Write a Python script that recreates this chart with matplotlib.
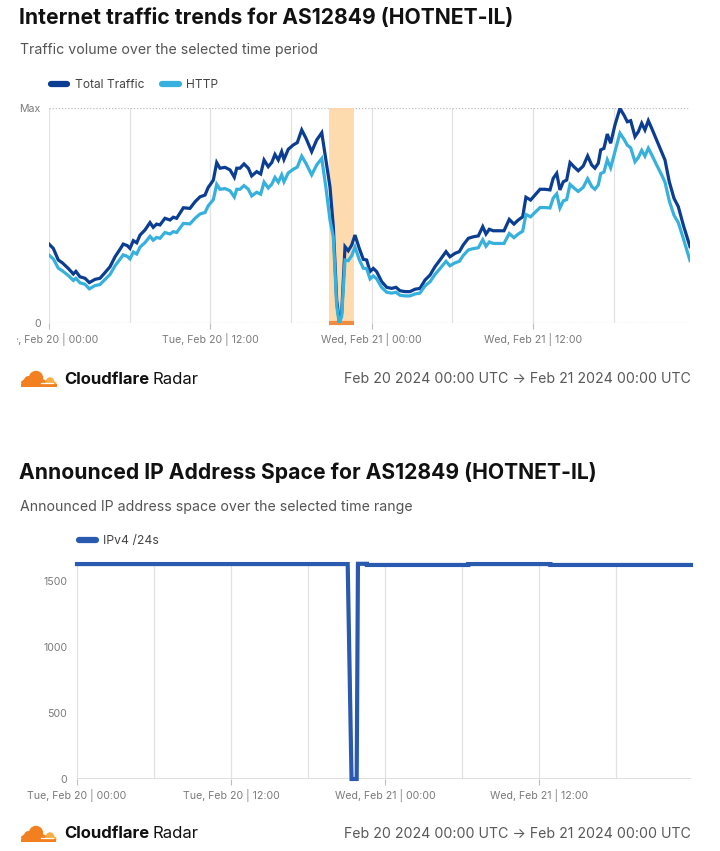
import matplotlib
matplotlib.use('Agg')
import matplotlib.pyplot as plt
from matplotlib.lines import Line2D
from matplotlib.patches import Circle, Ellipse, Rectangle
from matplotlib.transforms import Bbox, TransformedBbox
import numpy as np

# ---------------- data ----------------
# Hours since Tue Feb 20 00:00 UTC, traffic as % of Max
traffic_hours = [0.0, 0.32, 0.69, 0.99, 1.43, 1.81, 2.0, 2.3, 2.68, 3.0, 3.42, 3.79, 4.16, 4.54,
                 4.91, 5.28, 5.52, 5.82, 6.02, 6.27, 6.52, 6.77, 7.14, 7.51, 7.75, 8.0, 8.25, 8.62,
                 9.0, 9.24, 9.49, 9.99, 10.48, 10.86, 11.23, 11.6, 11.84, 11.97, 12.22, 12.47, 12.71,
                 13.09, 13.46, 13.78, 13.96, 14.2, 14.5, 14.82, 15.07, 15.44, 15.74, 15.99, 16.3,
                 16.56, 16.8, 17.05, 17.3, 17.47, 17.79, 18.16, 18.46, 18.79, 19.11, 19.53, 19.9,
                 20.28, 20.59, 20.89, 21.14, 21.39, 21.58, 21.76, 22.01, 22.25, 22.51, 22.75, 23.07,
                 23.37, 23.62, 23.87, 24.11, 24.36, 24.74, 25.11, 25.48, 25.8, 26.1, 26.47, 26.84,
                 27.21, 27.58, 27.96, 28.33, 28.7, 29.07, 29.52, 29.81, 30.19, 30.51, 30.8, 31.18,
                 31.55, 31.92, 32.25, 32.49, 32.74, 33.03, 33.53, 33.83, 34.22, 34.57, 34.89, 35.22,
                 35.46, 35.81, 36.13, 36.51, 36.88, 37.25, 37.49, 37.75, 37.99, 38.24, 38.49, 38.74,
                 39.03, 39.35, 39.72, 40.05, 40.35, 40.59, 40.84, 41.02, 41.26, 41.51, 41.76, 42.08,
                 42.45, 42.75, 43.0, 43.25, 43.57, 43.82, 44.07, 44.31, 44.56, 44.81, 45.18, 45.55,
                 45.8, 46.12, 46.47, 46.79, 47.16, 47.66]
total_traffic = [36.7, 34.7, 29.3, 28.0, 25.4, 22.8, 24.0, 21.5, 20.8, 18.8, 20.3, 20.8, 23.4, 26.2,
                 30.8, 34.3, 36.7, 36.0, 34.7, 38.3, 37.3, 40.9, 43.3, 46.7, 44.5, 46.0, 45.6, 48.7,
                 47.9, 49.2, 48.7, 53.6, 53.3, 56.4, 58.7, 59.5, 63.1, 64.2, 66.5, 74.6, 72.0,
                 72.4, 71.2, 67.8, 72.0, 72.0, 74.0, 72.0, 68.4, 70.4, 69.3, 75.8, 72.7,
                 74.6, 78.4, 75.8, 79.7, 76.1, 80.8, 82.8, 83.9, 89.8, 85.9, 79.7, 85.1,
                 88.5, 75.8, 63.4, 44.8, 10.7, 0.6, 4.5, 35.5, 33.6, 36.3, 40.9, 34.7,
                 29.6, 29.3, 23.9, 25.4, 23.9, 19.2, 16.6, 16.1, 16.6, 15.0, 14.6, 14.6,
                 15.7, 16.1, 20.0, 22.3, 26.2, 29.3, 33.2, 30.8, 32.4, 33.2, 36.3, 39.4,
                 40.1, 40.5, 44.8, 41.4, 43.6, 42.9, 42.9, 42.9, 48.2, 46.0, 47.9, 49.4,
                 58.5, 57.2, 59.5, 62.2, 62.2, 61.9, 67.3, 69.6, 61.9, 65.7, 66.5, 74.6,
                 72.7, 70.8, 73.0, 77.7, 73.5, 72.0, 74.3, 80.5, 81.2, 87.9, 83.6, 92.1,
                 99.8, 96.7, 93.6, 94.1, 86.7, 89.0, 92.9, 89.8, 94.1, 90.6, 85.1, 79.7,
                 75.8, 65.7, 58.0, 54.1, 45.6, 35.5]
http_traffic = [31.6, 29.8, 25.5, 24.3, 22.1, 19.8, 20.8, 18.7, 18.0, 15.9, 17.4, 17.9, 20.2, 22.6,
                26.6, 29.7, 31.7, 31.0, 29.8, 33.0, 32.1, 35.3, 37.4, 40.3, 38.5, 39.8, 39.4, 42.1,
                41.4, 42.5, 42.1, 46.3, 46.1, 48.7, 50.7, 51.4, 54.5, 55.5, 57.4, 64.5, 62.2,
                62.5, 61.5, 58.6, 62.2, 62.2, 63.9, 62.2, 59.1, 60.8, 59.9, 65.5, 62.8,
                64.5, 67.7, 65.5, 68.9, 65.7, 69.8, 71.5, 72.5, 77.6, 74.2, 68.9, 73.5,
                76.5, 63.0, 48.0, 40.0, 8.0, 0.0, 3.0, 29.3, 29.0, 31.3, 35.3, 29.5,
                25.5, 25.3, 20.5, 21.9, 20.6, 16.5, 14.3, 13.9, 14.3, 12.9, 12.6, 12.6,
                13.5, 13.9, 17.3, 19.2, 22.6, 25.3, 28.7, 26.6, 28.0, 28.7, 31.4, 34.0,
                34.6, 35.0, 38.7, 35.7, 37.7, 37.0, 37.0, 37.0, 41.6, 39.7, 41.4, 42.7,
                50.5, 49.4, 51.4, 53.7, 53.7, 53.5, 58.1, 60.1, 53.5, 56.8, 57.4, 64.5,
                62.8, 61.2, 63.1, 67.1, 63.5, 62.2, 64.2, 69.5, 70.2, 75.9, 72.2, 79.6,
                88.3, 85.5, 82.7, 81.5, 75.0, 77.0, 80.3, 77.6, 81.3, 78.3, 73.5, 68.9,
                65.5, 56.8, 50.1, 46.7, 39.4, 29.0]
outage_start, outage_end = 20.82, 22.68

ip_hours = [0.0, 21.1, 21.4, 21.8, 21.9, 22.6, 22.6, 30.5, 30.5, 36.9, 36.9, 47.86]
ip_v4_24s = [1632, 1632, 0, 0, 1634, 1634, 1625, 1625, 1632, 1632, 1625, 1625]

traffic_ticks = [0, 12, 24, 36]
traffic_ticklabels = ['Tue, Feb 20 | 00:00', 'Tue, Feb 20 | 12:00',
                      'Wed, Feb 21 | 00:00', 'Wed, Feb 21 | 12:00']
grid_hours = [0, 6, 12, 18, 24, 30, 36, 42]
ip_yticks = [0, 500, 1000, 1500]

# ---------------- style ----------------
FONT = ['Inter', 'DejaVu Sans']
plt.rcParams['font.family'] = FONT
W, H = 720, 851
C_TOTAL = '#0b3d93'
C_HTTP = '#36b0dc'
C_IP = '#2a5ab0'
C_GRID = '#e2e2e2'
C_TICK = '#7a7a7a'

fig = plt.figure(figsize=(W / 100, H / 100), dpi=100)
fig.patch.set_facecolor('white')


def fx(px):
    return px / W


def fy(py):
    return 1 - py / H


def header(y_title, y_sub, title, sub):
    fig.text(fx(19), fy(y_title), title, fontsize=15.2, fontweight='bold', color='#111111',
             va='center', ha='left')
    fig.text(fx(20), fy(y_sub), sub, fontsize=10.2, color='#555555', va='center', ha='left')


def footer(y):
    # Cloudflare cloud logo
    lax = fig.add_axes([fx(19), fy(y + 10), fx(58) - fx(19), 21 / H])
    lax.set_xlim(0, 39)
    lax.set_ylim(0, 21)
    lax.set_aspect('equal')
    lax.axis('off')
    org, lt = '#f38020', '#fbad41'
    lax.add_patch(Ellipse((15, 6.5), 26, 9, color=org, lw=0))
    lax.add_patch(Circle((17, 11), 7.2, color=org, lw=0))
    lax.add_patch(Circle((9.5, 8.5), 4.5, color=org, lw=0))
    lax.add_patch(Ellipse((31.5, 5.2), 12, 6.4, color=lt, lw=0))
    lax.add_patch(Circle((31, 7.5), 4.2, color=lt, lw=0))
    lax.add_patch(Rectangle((1.5, 2), 36, 2.6, color=org, lw=0))
    lax.plot([22, 34], [6.2, 6.2], color='white', lw=0.9)
    t = fig.text(fx(64), fy(y), 'Cloudflare', fontsize=12, fontweight='bold', color='#111111',
                 va='center', ha='left')
    r = fig.canvas.get_renderer()
    bb = t.get_window_extent(r)
    fig.text((bb.x1 + 3) / W, fy(y), 'Radar', fontsize=12, color='#111111',
             va='center', ha='left')
    fig.text(fx(691), fy(y), 'Feb 20 2024 00:00 UTC \u2192 Feb 21 2024 00:00 UTC',
             fontsize=10.2, color='#585858', va='center', ha='right')


# ================= Chart 1: traffic =================
header(18, 50, 'Internet traffic trends for AS12849 (HOTNET-IL)',
       'Traffic volume over the selected time period')

ax1 = fig.add_axes([fx(49), fy(323), fx(690) - fx(49), (323 - 108) / H])
ax1.set_xlim(0, 47.66)
ax1.set_ylim(0, 100)
for s in ax1.spines.values():
    s.set_visible(False)
for g in grid_hours:
    ax1.axvline(g, color=C_GRID, lw=0.9, zorder=0)
ax1.axhline(100, color='#bdbdbd', lw=0.9, ls=(0, (1, 1.5)), zorder=1)
ax1.axhline(0, color='#bdbdbd', lw=0.9, ls=(0, (1, 1.5)), zorder=1)
ax1.axvspan(outage_start, outage_end, color='#fdd29a', alpha=0.8, lw=0, zorder=1)
ax1.plot([outage_start, outage_end], [0, 0], color='#f08c3e', lw=3, clip_on=False,
         solid_capstyle='butt', zorder=2)
ax1.plot(traffic_hours, total_traffic, color=C_TOTAL, lw=2.3, zorder=3,
         solid_joinstyle='miter')
ax1.plot(traffic_hours, http_traffic, color=C_HTTP, lw=2.3, zorder=4,
         solid_joinstyle='miter')
ax1.set_xticks(traffic_ticks)
ax1.set_xticklabels(traffic_ticklabels)
ax1.tick_params(axis='x', length=4, width=0.8, color='#bdbdbd', labelsize=7.6,
                labelcolor=C_TICK, pad=3)
ax1.set_yticks([0, 100])
ax1.set_yticklabels(['0', 'Max'])
ax1.tick_params(axis='y', length=0, labelsize=7.6, labelcolor=C_TICK, pad=6)
clip = TransformedBbox(Bbox([[fx(17), 0], [1, 1]]), fig.transFigure)
for lbl in ax1.get_xticklabels():
    lbl.set_clip_box(clip)
    lbl.set_clip_on(True)

leg1 = fig.legend(handles=[Line2D([], [], color=C_TOTAL, lw=4.5, solid_capstyle='round'),
                           Line2D([], [], color=C_HTTP, lw=4.5, solid_capstyle='round')],
                  labels=['Total Traffic', 'HTTP'], loc='center left',
                  bbox_to_anchor=(fx(40), fy(85)), ncol=2, frameon=False, fontsize=8.6,
                  handlelength=1.4, handletextpad=0.6, columnspacing=1.5, labelcolor='#444444')

footer(379)

# ================= Chart 2: IP space =================
header(472, 507, 'Announced IP Address Space for AS12849 (HOTNET-IL)',
       'Announced IP address space over the selected time range')

ax2 = fig.add_axes([fx(77), fy(779), fx(691) - fx(77), (779 - 563) / H])
ax2.set_xlim(0, 47.86)
ax2.set_ylim(0, 1640)
for s in ax2.spines.values():
    s.set_visible(False)
for g in grid_hours:
    ax2.axvline(g, color=C_GRID, lw=0.9, zorder=0)
ax2.axhline(0, color='#d9d9d9', lw=1.2, zorder=1)
ax2.plot(ip_hours, ip_v4_24s, color=C_IP, lw=3.0, zorder=3, clip_on=False,
         solid_joinstyle='miter')
ax2.set_xticks(traffic_ticks)
ax2.set_xticklabels(traffic_ticklabels)
ax2.tick_params(axis='x', length=4, width=0.8, color='#bdbdbd', labelsize=7.6,
                labelcolor=C_TICK, pad=3)
ax2.set_yticks(ip_yticks)
ax2.set_yticklabels([str(v) for v in ip_yticks])
ax2.tick_params(axis='y', length=0, labelsize=7.6, labelcolor=C_TICK, pad=7)

leg2 = fig.legend(handles=[Line2D([], [], color=C_IP, lw=4.5, solid_capstyle='round')],
                  labels=['IPv4 /24s'], loc='center left',
                  bbox_to_anchor=(fx(68), fy(541)), frameon=False, fontsize=8.8,
                  handlelength=1.4, handletextpad=0.6, labelcolor='#444444')

footer(834)

fig.savefig('out.png', dpi=100, facecolor='white')
